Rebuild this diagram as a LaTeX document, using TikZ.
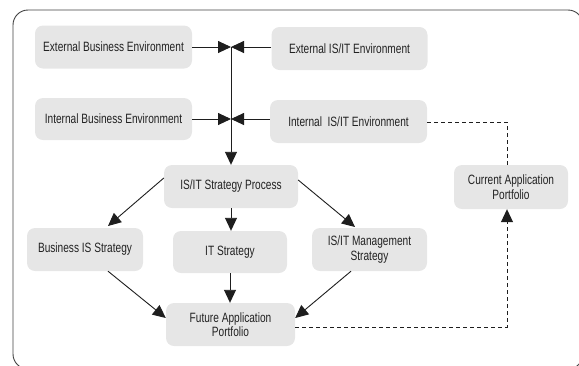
\documentclass[tikz,border=0pt]{standalone}
\usepackage{fontspec}
\setmainfont{Liberation Sans}[FakeStretch=0.75]
\usetikzlibrary{arrows.meta}
\definecolor{boxgray}{HTML}{E6E6E6}
\definecolor{txtgray}{HTML}{222222}
\definecolor{lingray}{HTML}{1E1E1E}
\tikzset{
  procbox/.style={fill=boxgray, draw=none, rounded corners=8pt, inner sep=0pt,
    align=center, text=txtgray, font=\fontsize{13.5}{14.5}\selectfont},
  tip/.style={-{Triangle[length=13pt,width=12pt]}},
  conn/.style={draw=lingray, line width=0.9pt, tip},
  dconn/.style={draw=lingray, line width=0.9pt, dash pattern=on 4pt off 3pt},
  frame/.style={draw=black!75, line width=0.9pt, rounded corners=15pt}
}
\begin{document}
\begin{tikzpicture}[x=1pt,y=-1pt]
\useasboundingbox (0,0) rectangle (579,365);
\clip (0,0) rectangle (579,365);
\draw[frame] (13,10) rectangle (583,369);
% nodes
\node[procbox, minimum width=157pt, minimum height=43pt] (ebe) at (113.5,47) {External Business Environment};
\node[procbox, minimum width=156pt, minimum height=43pt] (eit) at (349.5,48.5) {External IS/IT Environment};
\node[procbox, minimum width=157pt, minimum height=42pt] (ibe) at (113.5,119) {Internal Business Environment};
\node[procbox, minimum width=157pt, minimum height=43pt] (iit) at (348.5,121.5) {Internal\ \ IS/IT Environment};
\node[procbox, minimum width=134pt, minimum height=43pt] (sp) at (231,186.5) {IS/IT Strategy Process};
\node[procbox, minimum width=116pt, minimum height=43pt] (bis) at (85,249.5) {Business IS Strategy};
\node[procbox, minimum width=114pt, minimum height=42pt] (its) at (230,252) {IT Strategy};
\node[procbox, minimum width=115pt, minimum height=43pt] (ims) at (369.5,249.5) {IS/IT Management\\Strategy};
\node[procbox, minimum width=129pt, minimum height=43pt] (fap) at (230.5,324.5) {Future Application\\Portfolio};
\node[procbox, minimum width=114pt, minimum height=44pt] (cap) at (511,187) {Current Application\\Portfolio};
% junctions
\coordinate (j1) at (231,47);
\coordinate (j2) at (231,119);
\coordinate (d1) at (507,122);
\coordinate (d2) at (507,327);
% connectors
\draw[conn] (ebe.east) -- (j1);
\draw[conn] (eit.west |- j1) -- (j1);
\draw[conn] (ibe.east) -- (j2);
\draw[conn] (iit.west |- j2) -- (j2);
\draw[draw=lingray, line width=0.9pt] (j1) -- (j2);
\draw[conn] (j2) -- (sp.north);
\draw[conn] (sp.west |- 0,178) -- (108,226);
\draw[conn] (sp.east |- 0,180) -- (355,227);
\draw[conn] (sp.south) -- (sp.south |- its.north);
\draw[conn] (its.south) -- (its.south |- fap.north);
\draw[conn] (bis.south -| 108,0) -- (fap.west |- 0,318);
\draw[conn] (ims.south -| 351,0) -- (fap.east |- 0,318);
\draw[dconn] (iit.east |- d1) -- (d1) -- (d1 |- cap.north);
\draw[dconn, tip] (fap.east |- d2) -- (d2) -- (d2 |- cap.south);
\end{tikzpicture}
\end{document}
